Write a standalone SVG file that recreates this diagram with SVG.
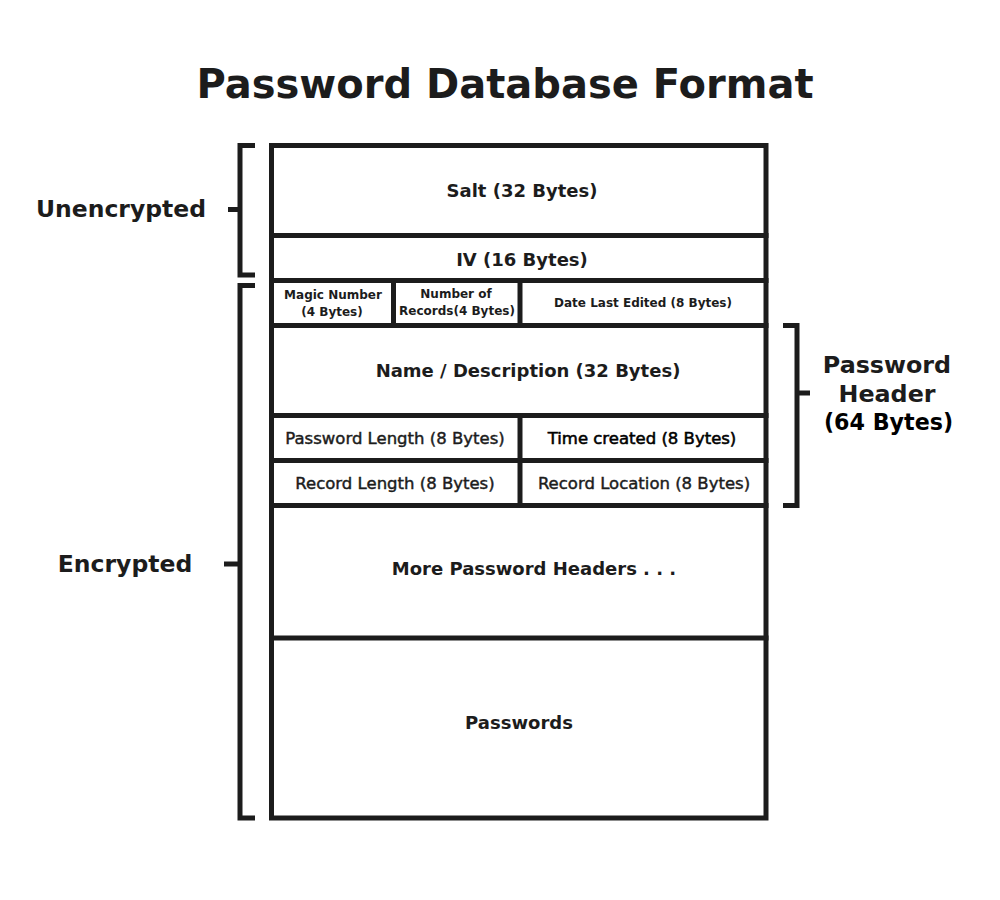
<svg xmlns="http://www.w3.org/2000/svg" width="1000" height="900" viewBox="0 0 1000 900">
<style>
.ln{stroke:#1c1c1c;stroke-width:5;fill:none;stroke-linecap:square}
.br{stroke:#1c1c1c;stroke-width:5;fill:none}
text{font-family:"DejaVu Sans","Liberation Sans",sans-serif;fill:#1c1c1c;text-anchor:middle}
.b{font-weight:bold}
.t18{font-size:18px;font-weight:bold}
.t15{font-size:16.5px;stroke:#1c1c1c;stroke-width:0.45}
.t12{font-size:12px;font-weight:bold}
.big{font-size:23.5px;font-weight:bold}
</style>
<rect width="1000" height="900" fill="#fff"/>
<text x="505" y="98" class="b" style="font-size:40px">Password Database Format</text>

<g id="frame">
<rect x="271.5" y="145.5" width="494.5" height="672.5" class="ln"/>
</g>
<g id="salt"><line x1="271.5" y1="235.5" x2="766" y2="235.5" class="ln"/><text x="522" y="196.5" class="t18">Salt (32 Bytes)</text></g>
<g id="iv"><line x1="271.5" y1="280.5" x2="766" y2="280.5" class="ln"/><text x="522" y="266" class="t18">IV (16 Bytes)</text></g>
<g id="magic"><line x1="393.5" y1="280.5" x2="393.5" y2="325.5" class="ln"/><text x="333" y="299" class="t12">Magic Number</text><text x="332" y="315.5" class="t12">(4 Bytes)</text></g>
<g id="numrec"><line x1="520" y1="280.5" x2="520" y2="325.5" class="ln"/><text x="456" y="298" class="t12">Number of</text><text x="457" y="315" class="t12">Records(4 Bytes)</text></g>
<g id="date"><text x="643" y="307" class="t12">Date Last Edited (8 Bytes)</text></g>
<g id="name"><line x1="271.5" y1="325.5" x2="766" y2="325.5" class="ln"/><text x="528" y="377" class="t18">Name / Description (32 Bytes)</text></g>
<g id="pwlen"><line x1="271.5" y1="415.5" x2="766" y2="415.5" class="ln"/><line x1="520" y1="415.5" x2="520" y2="505.5" class="ln"/><text x="395" y="444" class="t15">Password Length (8 Bytes)</text></g>
<g id="time"><text x="642" y="444" class="t15" style="fill:#000;stroke:#000;stroke-width:0.55">Time created (8 Bytes)</text></g>
<g id="reclen"><line x1="271.5" y1="460.5" x2="766" y2="460.5" class="ln"/><text x="395" y="488.5" class="t15">Record Length (8 Bytes)</text></g>
<g id="recloc"><text x="644" y="488.5" class="t15">Record Location (8 Bytes)</text></g>
<g id="more"><line x1="271.5" y1="505.5" x2="766" y2="505.5" class="ln"/><text x="534" y="575" class="t18">More Password Headers . . .</text></g>
<g id="passwords"><line x1="271.5" y1="638" x2="766" y2="638" class="ln"/><text x="519" y="729" class="t18">Passwords</text></g>

<g id="connectors">
<path d="M255 145.5 H240 V275 H255 M240 209.5 H228" class="br"/>
<path d="M255 285.5 H240 V818 H255 M240 564 H224" class="br"/>
<path d="M783 325.5 H797 V505.5 H783 M797 393 H810" class="br"/>
</g>

<g id="labels">
<text x="121" y="216.5" class="big">Unencrypted</text>
<text x="125" y="572" class="big">Encrypted</text>
<text x="887" y="373" class="big" style="font-size:23.8px">Password</text>
<text x="887" y="401.5" class="big" style="font-size:23.8px">Header</text>
<text x="888.5" y="430" class="big" style="font-size:22.2px;fill:#000">(64 Bytes)</text>
</g>
</svg>
